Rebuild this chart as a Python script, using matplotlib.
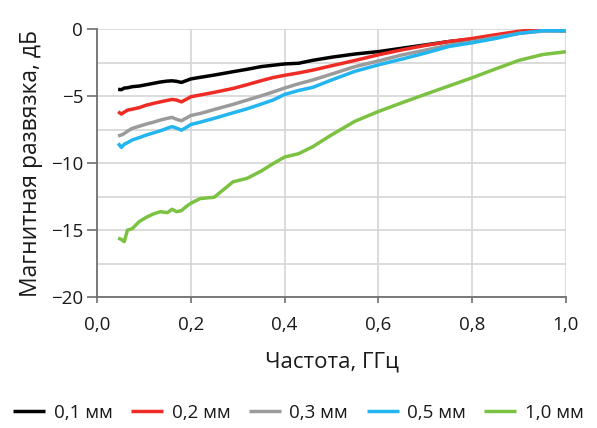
import numpy as np
import matplotlib.pyplot as plt
from matplotlib.ticker import MultipleLocator

plt.rcParams['font.family'] = ['Open Sans', 'DejaVu Sans']

# frequency points, GHz
freq = [0.045, 0.052, 0.058, 0.065, 0.075, 0.09, 0.105, 0.12, 0.135, 0.15,
        0.16, 0.17, 0.18, 0.19, 0.2, 0.22, 0.25, 0.29, 0.32, 0.35,
        0.375, 0.4, 0.43, 0.46, 0.5, 0.55, 0.6, 0.65, 0.7, 0.75,
        0.8, 0.85, 0.9, 0.95, 1.0]

# isolation, dB
iso_01 = [-4.5, -4.52, -4.4, -4.38, -4.3, -4.25, -4.15, -4.05, -3.95, -3.88,
          -3.86, -3.9, -3.98, -3.85, -3.72, -3.6, -3.43, -3.18, -3.0, -2.8,
          -2.7, -2.6, -2.55, -2.33, -2.1, -1.86, -1.68, -1.43, -1.18, -0.93,
          -0.75, -0.5, -0.26, -0.07, -0.12]
iso_02 = [-6.17, -6.34, -6.2, -6.05, -5.98, -5.86, -5.68, -5.55, -5.43, -5.32,
          -5.25, -5.3, -5.43, -5.25, -5.05, -4.92, -4.72, -4.43, -4.15, -3.85,
          -3.62, -3.45, -3.27, -3.06, -2.74, -2.34, -1.92, -1.55, -1.22, -0.93,
          -0.7, -0.42, -0.16, 0.0, -0.07]
iso_03 = [-7.98, -7.9, -7.8, -7.62, -7.41, -7.25, -7.09, -6.95, -6.79, -6.66,
          -6.59, -6.74, -6.84, -6.65, -6.45, -6.3, -6.0, -5.62, -5.3, -4.98,
          -4.7, -4.4, -4.08, -3.8, -3.36, -2.8, -2.38, -1.93, -1.57, -1.2,
          -0.94, -0.62, -0.32, -0.15, -0.15]
iso_05 = [-8.53, -8.83, -8.6, -8.48, -8.28, -8.1, -7.91, -7.75, -7.59, -7.4,
          -7.28, -7.4, -7.54, -7.35, -7.12, -6.95, -6.66, -6.25, -5.95, -5.6,
          -5.3, -4.88, -4.58, -4.35, -3.8, -3.15, -2.67, -2.24, -1.79, -1.3,
          -1.02, -0.7, -0.32, -0.12, -0.12]
iso_10 = [-15.6, -15.7, -15.87, -15.0, -14.9, -14.37, -14.05, -13.8, -13.63, -13.7,
          -13.45, -13.63, -13.55, -13.25, -13.0, -12.65, -12.55, -11.4, -11.14, -10.6,
          -10.05, -9.55, -9.3, -8.78, -7.9, -6.88, -6.15, -5.5, -4.87, -4.25,
          -3.63, -2.97, -2.33, -1.9, -1.69]

labels = ['0,1 мм', '0,2 мм', '0,3 мм', '0,5 мм', '1,0 мм']
colors = ['#000000', '#ee2b24', '#9b9b9b', '#22b5ef', '#7cc242']

xticks = [0.0, 0.2, 0.4, 0.6, 0.8, 1.0]
xtick_labels = ['0,0', '0,2', '0,4', '0,6', '0,8', '1,0']
yticks = [0, -5, -10, -15, -20]
ytick_labels = ['0', '\u22125', '\u221210', '\u221215', '\u221220']

fig = plt.figure(figsize=(5.97, 4.28), dpi=100)
ax = fig.add_axes([0.1625, 0.306, 0.7855, 0.626])

for y, lab, c in zip([iso_01, iso_02, iso_03, iso_05, iso_10], labels, colors):
    ax.plot(freq, y, color=c, linewidth=2.5, label=lab, solid_capstyle='butt')

ax.set_xlim(0, 1.0)
ax.set_ylim(-20, 0)
ax.set_xticks(xticks)
ax.set_xticklabels(xtick_labels)
ax.set_yticks(yticks)
ax.set_yticklabels(ytick_labels)
ax.yaxis.set_minor_locator(MultipleLocator(2.5))

ax.grid(True, which='major', color='#d6d6d6', linewidth=1.2)
ax.grid(True, which='minor', axis='y', color='#d6d6d6', linewidth=1.2)
ax.set_axisbelow(True)

for s in ['top', 'right']:
    ax.spines[s].set_visible(False)
for s in ['left', 'bottom']:
    ax.spines[s].set_color('#707070')
    ax.spines[s].set_linewidth(1.3)

ax.tick_params(axis='y', which='major', direction='out', length=7, width=1.2,
               color='#707070', labelsize=13.5, labelcolor='#1a1a1a', pad=3)
ax.tick_params(axis='y', which='minor', length=0)
ax.tick_params(axis='x', direction='out', length=4, width=1.2,
               color='#707070', labelsize=13.5, labelcolor='#1a1a1a', pad=10)

ax.set_xlabel('Частота, ГГц', fontsize=16, color='#1a1a1a', labelpad=12)
ax.set_ylabel('Магнитная развязка, дБ', fontsize=16.5, color='#1a1a1a', labelpad=6)

fig.legend(loc='center', bbox_to_anchor=(0.5, 0.035), ncol=5, frameon=False,
           fontsize=13.5, handlelength=1.7, handletextpad=0.45, columnspacing=1.0,
           labelcolor='#1a1a1a')

fig.savefig('out.png', dpi=100)
